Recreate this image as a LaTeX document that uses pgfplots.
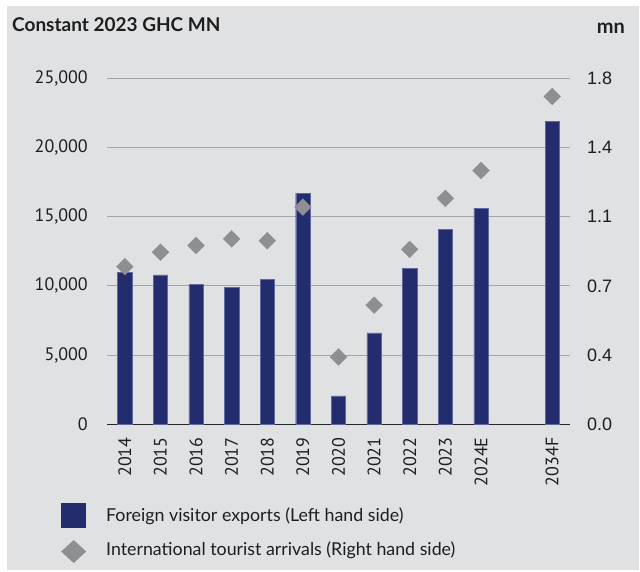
\documentclass[border=0pt]{standalone}
\usepackage{fontspec}
\setmainfont{Lato}
\newfontfamily\tickfont{PT Sans}
\newfontfamily\rtickfont{Liberation Sans}
\usepackage{pgfplots}
\pgfplotsset{compat=1.18}
\definecolor{bg}{RGB}{224,225,227}
\definecolor{navy}{RGB}{35,45,110}
\definecolor{navyedge}{RGB}{95,105,160}
\definecolor{dgray}{RGB}{142,143,146}
\definecolor{gridc}{RGB}{165,165,165}
\definecolor{txt}{RGB}{30,30,30}
\begin{document}
\begin{tikzpicture}
\fill[white] (0pt,0pt) rectangle (640pt,572pt);
\fill[bg] (7pt,2pt) rectangle (639pt,566pt);
\useasboundingbox (0pt,0pt) rectangle (640pt,572pt);
\node[anchor=base west, font=\bfseries\fontsize{19}{22}\selectfont, text=txt, inner sep=0] at (12pt,540pt) {Constant 2023 GHC MN};
\node[anchor=base east, font=\bfseries\fontsize{20}{22}\selectfont, text=txt, inner sep=0] at (625pt,538pt) {mn};

\begin{axis}[
  at={(107pt,147.7pt)}, anchor=south west,
  scale only axis, width=463pt, height=346pt,
  xmin=-0.5, xmax=12.5, ymin=0, ymax=25000,
  axis x line*=bottom, axis y line*=left,
  x axis line style={draw=black!85, line width=1.3pt, -},
  y axis line style={draw=none},
  major tick length=0pt,
  xtick={0,1,2,3,4,5,6,7,8,9,10,12},
  xticklabels={2014,2015,2016,2017,2018,2019,2020,2021,2022,2023,2024E,2034F},
  xticklabel style={rotate=90, anchor=east, inner sep=0pt, xshift=-13pt, font=\tickfont\fontsize{18}{18}\selectfont, text=txt},
  ytick={0,5000,10000,15000,20000,25000},
  scaled y ticks=false,
  yticklabel style={anchor=east, inner sep=0pt, xshift=-19pt, font=\tickfont\fontsize{18}{18}\selectfont, text=txt},
  /pgf/number format/.cd, 1000 sep={,}, assume math mode=true,
  /pgfplots/.cd,
  ymajorgrids, grid style={draw=gridc, line width=0.9pt},
  legend style={at={(axis description cs:-0.0994,-0.227)}, anchor=north west, draw=none, fill=none,
    font=\fontsize{17.8}{20}\selectfont, text=txt, row sep=12pt, inner sep=0pt, column sep=0pt,
    nodes={inner sep=0pt}},
  legend cell align=left,
]
\addplot[ybar, bar width=14.3pt, fill=navy, draw=navyedge, line width=0.4pt, forget plot] coordinates {
 (0,11000) (1,10800) (2,10100) (3,9900) (4,10450) (5,16700)
 (6,2050) (7,6600) (8,11250) (9,14100) (10,15600) (12,21900)};
\addlegendimage{draw=none, legend image code/.code={\fill[navy, draw=none] (0pt,-12.5pt) rectangle (25pt,12.5pt); \path[draw=none, fill=none] (0pt,0pt) -- (45pt,0pt);}}
\addlegendentry{Foreign visitor exports (Left hand side)}
\addlegendimage{draw=none, legend image code/.code={\fill[dgray, draw=none] (0pt,-2pt) -- (12.5pt,9.5pt) -- (25pt,-2pt) -- (12.5pt,-13.5pt) -- cycle; \path[draw=none, fill=none] (0pt,0pt) -- (45pt,0pt);}}
\addlegendentry{International tourist arrivals (Right hand side)}
\end{axis}

\begin{axis}[
  at={(107pt,147.7pt)}, anchor=south west,
  scale only axis, width=463pt, height=346pt,
  xmin=-0.5, xmax=12.5, ymin=0, ymax=1.8,
  axis x line=none, axis y line*=right,
  y axis line style={draw=none},
  major tick length=0pt,
  ytick={0,0.36,0.72,1.08,1.44,1.8},
  yticklabels={0.0,0.4,0.7,1.1,1.4,1.8},
  yticklabel style={anchor=west, inner sep=0pt, xshift=17pt, font=\rtickfont\fontsize{18}{18}\selectfont, text=txt},
]
\addplot[only marks, mark=square*, mark size=5.9pt, mark options={rotate=45, fill=dgray, draw=dgray}] coordinates {
 (0,0.82) (1,0.895) (2,0.93) (3,0.965) (4,0.955) (5,1.13)
 (6,0.35) (7,0.62) (8,0.91) (9,1.175) (10,1.32) (12,1.705)};
\end{axis}
\end{tikzpicture}
\end{document}
